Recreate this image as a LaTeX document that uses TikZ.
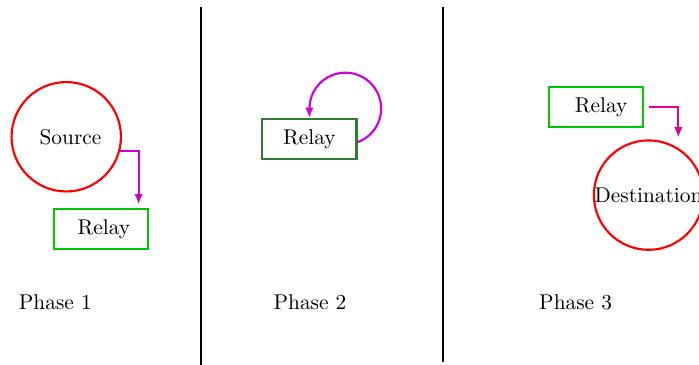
\documentclass[tikz,border=0pt]{standalone}
\usetikzlibrary{arrows.meta}
\definecolor{verdechiaro}{RGB}{0,200,0}
\definecolor{verdescuro}{RGB}{46,125,50}
\definecolor{magentaA}{RGB}{204,0,204}
\definecolor{magentaB}{RGB}{208,0,216}
\definecolor{magentaC}{RGB}{230,0,140}
\begin{document}
\begin{tikzpicture}[
        nodo/.style={circle, draw=red, line width=1pt, minimum size=1.8cm, inner sep=0pt},
        relay/.style={rectangle, draw=#1, line width=1pt, minimum width=1.55cm, minimum height=0.66cm},
        relay/.default=verdechiaro,
        freccia/.style={draw=#1, line width=1pt, -{Latex[length=1.7mm, width=1.4mm]}}
    ]
        \useasboundingbox (0,0) rectangle (11.5,6);

        % Separatori tra le fasi
        \coordinate (S1a) at (3.31,5.88);
        \coordinate (S1b) at (3.31,0);
        \coordinate (S2a) at (7.29,5.88);
        \coordinate (S2b) at (7.29,0.05);
        \draw[line width=1pt] (S1a) -- (S1b);
        \draw[line width=1pt] (S2a) -- (S2b);

        % Fase 1
        \node[nodo] (S) at (1.09, 3.75) {\hspace{0.14cm}Source};
        \node[relay] (R1) at (1.66, 2.23) {\hspace{0.1cm}Relay};
        \draw[freccia=magentaA] (S.-15) -| ([xshift=0.62cm, yshift=0.06cm]R1.north);
        \node (P1) at (0.91, 1.03) {Phase 1};

        % Fase 2
        \node[relay=verdescuro] (R2) at (5.09, 3.71) {Relay\hspace{0.1cm}};
        \draw[freccia=magentaB] ([yshift=-0.05cm]R2.east) arc[start angle=-70, end angle=180, radius=0.59cm] -- (R2.north);
        \node (P2) at (5.10, 1.03) {Phase 2};

        % Fase 3
        \node[relay] (R3) at (9.80, 4.24) {\hspace{0.18cm}Relay};
        \node[nodo] (D) at (10.67, 2.79) {Destination};
        \draw[freccia=magentaC] ([xshift=0.08cm]R3.east) -| ([xshift=0.49cm, yshift=0.03cm]D.north);
        \node (P3) at (9.47, 1.03) {Phase 3};
    \end{tikzpicture}
\end{document}
